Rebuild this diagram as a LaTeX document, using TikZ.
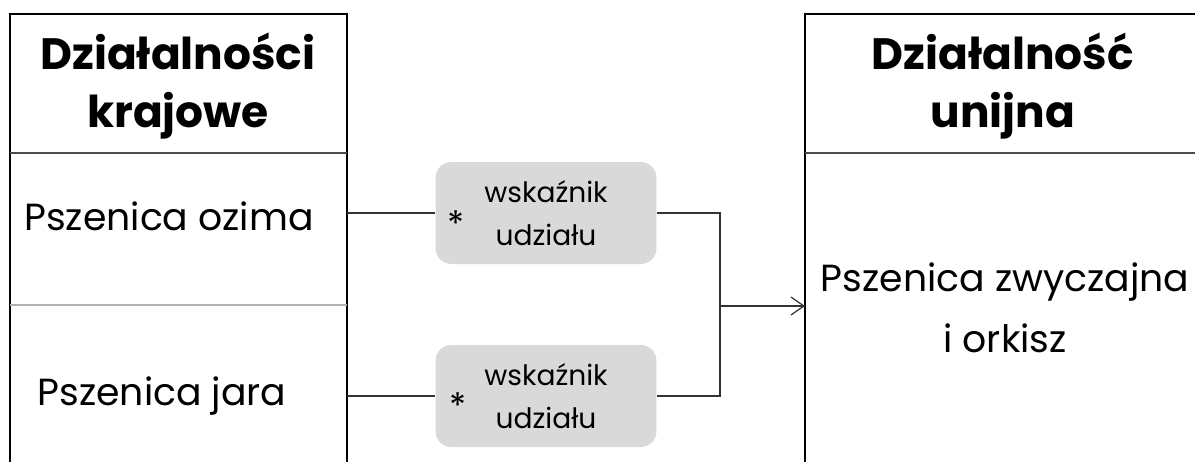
\documentclass[tikz,border=0pt]{standalone}
\usepackage{fontspec}
\setmainfont{Poppins}
\usetikzlibrary{positioning,arrows.meta}

\begin{document}
\begin{tikzpicture}[x=0.02cm,y=-0.02cm,
    frame/.style={draw=black,line width=1.1pt},
    sep/.style={draw=black!70,line width=0.8pt},
    head/.style={font=\fontsize{25}{33}\selectfont\bfseries,align=center,inner sep=0pt},
    cell/.style={font=\fontsize{21.5}{34.5}\selectfont,align=center,inner sep=0pt},
    share/.style={fill=black!15,rounded corners=9pt,minimum width=4.42cm,minimum height=2.04cm,
        font=\fontsize{16}{24.5}\selectfont,align=center,inner sep=0pt},
    star/.style={font=\fontsize{20}{20}\selectfont,inner sep=0pt},
    link/.style={draw=black!80,line width=0.7pt}]
  \useasboundingbox (0,0) rectangle (1195,461);

  % lewa kolumna
  \draw[frame] (10,475) -- (10,14) -- (347,14) -- (347,475);
  \draw[sep] (10,153) -- (347,153);
  \draw[draw=black!30,line width=0.8pt] (10,305) -- (347,305);
  \node[head] (krajH) at (178,86) {Działalności\\krajowe};
  \node[cell,anchor=base] (ozima) at (169,230) {Pszenica ozima};
  \node[cell,anchor=base] (jara) at (162,405) {Pszenica jara};

  % prawa kolumna
  \draw[frame] (805,475) -- (805,14) -- (1210,14);
  \draw[sep] (805,153) -- (1210,153);
  \node[head] (uniaH) at (1003,86) {Działalność\\unijna};
  \node[cell] (pszenica) at (1005,308) {Pszenica zwyczajna\\i orkisz};

  % wskazniki
  \node[share] (udzialO) at (546,213) {wskaźnik\\udziału};
  \node[share] (udzialJ) at (546,396) {wskaźnik\\udziału};
  \node[star] (gwO) at (456,224) {*};
  \node[star] (gwJ) at (458,406) {*};

  \coordinate (ozimaE) at (347,213);
  \coordinate (jaraE) at (347,396);
  \coordinate (zbieg) at (720,306);
  \coordinate (pszenicaW) at (805,306);

  \draw[link] (ozimaE) -- (udzialO.west);
  \draw[link] (jaraE) -- (udzialJ.west);
  \draw[link] (udzialO.east) -| (zbieg);
  \draw[link] (udzialJ.east) -| (zbieg);
  \draw[link,-{Straight Barb[length=2.6mm,width=3.6mm]}] (zbieg) -- (pszenicaW);
\end{tikzpicture}
\end{document}
